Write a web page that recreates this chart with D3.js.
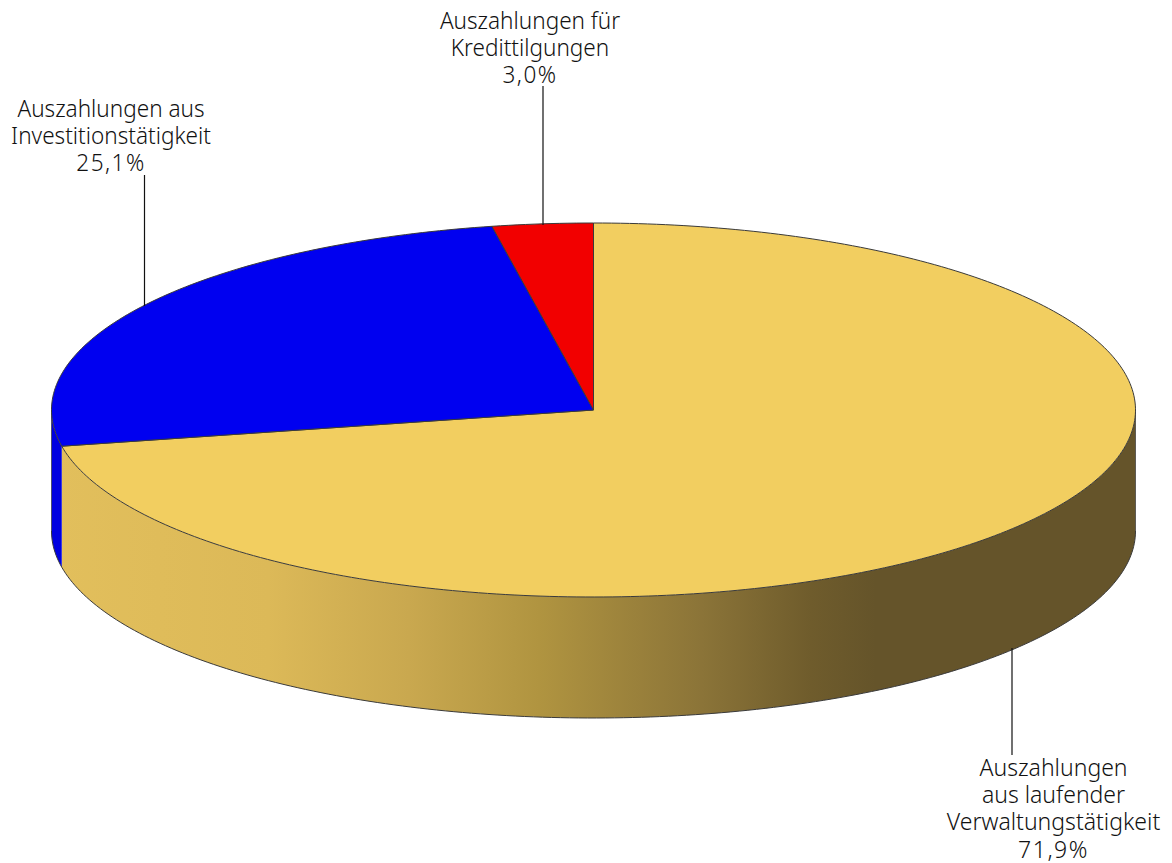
<!DOCTYPE html>
<html><head><meta charset="utf-8">
<script src="https://cdn.jsdelivr.net/npm/d3@7"></script>
<style>html,body{margin:0;padding:0;background:#fff}svg{display:block}
text{font-family:"Noto Sans",sans-serif;font-weight:300;fill:#111;font-size:23px}</style>
</head><body><svg id="c" width="1172" height="863"></svg>
<script>
const categories = ["Auszahlungen aus laufender Verwaltungstätigkeit","Auszahlungen aus Investitionstätigkeit","Auszahlungen für Kredittilgungen"];
const values = [71.9,25.1,3.0];
const colors = ["#f2ce60","#0000f0","#f20000"];
const sideColors = ["url(#wall)","#0000e0","#d80000"];
const labelLines = [["Auszahlungen","aus laufender","Verwaltungstätigkeit","71,9%"],["Auszahlungen aus","Investitionstätigkeit","25,1%"],["Auszahlungen für","Kredittilgungen","3,0%"]];
const labelLayout = [
 {x:1053.5,y0:776,lh:27.2,sx:1,lineX:1012,lineY0:648,lineY1:755},
 {x:111,y0:117,lh:27.2,sx:0.98,lineX:144.5,lineY0:175,lineY1:306},
 {x:530,y0:29,lh:27.2,sx:0.98,lineX:543,lineY0:86,lineY1:225}];
const cx=593.5,cy=410,rx=542,ry=187,depth=121;
const svg=d3.select("#c");
const defs=svg.append("defs");
const grad=defs.append("linearGradient").attr("id","wall").attr("gradientUnits","userSpaceOnUse")
 .attr("x1",cx-rx).attr("x2",cx+rx).attr("y1",0).attr("y2",0);
[[0,"#e2bf5c"],[0.2,"#dcb958"],[0.33,"#c9a84f"],[0.45,"#b09440"],[0.6,"#8b7438"],[0.7,"#6f5c2c"],[0.76,"#65542a"],[1,"#65542a"]]
 .forEach(s=>grad.append("stop").attr("offset",s[0]).attr("stop-color",s[1]));
const pie=d3.pie().sort(null).value(d=>d)(values);
const X=d3.scaleLinear().domain([0,1]).range([cx,cx+rx]);
const Y=d3.scaleLinear().domain([0,1]).range([cy,cy+ry]);
const pt=(a,dz=0)=>[X(Math.sin(a)),Y(-Math.cos(a))+dz];
function arcPts(a0,a1,dz){const n=Math.max(2,Math.ceil(Math.abs(a1-a0)*60));
 return d3.range(n+1).map(i=>pt(a0+(a1-a0)*i/n,dz));}
const line=d3.line();
const edge="#3a3a3a";
pie.forEach((d,i)=>{
 const a0=Math.max(d.startAngle,Math.PI/2),a1=Math.min(d.endAngle,3*Math.PI/2);
 if(a1<=a0)return;
 const pts=arcPts(a0,a1,0).concat(arcPts(a1,a0,depth));
 svg.append("path").attr("d",line(pts)+"Z").attr("fill",sideColors[i]);
 svg.append("path").attr("d",line(arcPts(a1,a0,depth))).attr("fill","none").attr("stroke",edge).attr("stroke-width",1);
});
pie.forEach((d,i)=>{
 const pts=[[cx,cy]].concat(arcPts(d.startAngle,d.endAngle,0));
 svg.append("path").attr("d",line(pts)+"Z").attr("fill",colors[i]).attr("stroke",edge).attr("stroke-width",1).attr("stroke-linejoin","round");
});
[Math.PI/2,3*Math.PI/2].forEach(a=>{
 svg.append("path").attr("d",line([pt(a,0),pt(a,depth)])).attr("stroke",edge).attr("stroke-width",1).attr("fill","none").attr("opacity",.7);
});
labelLayout.forEach((l,i)=>{
 svg.append("line").attr("x1",l.lineX).attr("x2",l.lineX).attr("y1",l.lineY0).attr("y2",l.lineY1).attr("stroke","#111").attr("stroke-width",1.2);
 const g=svg.append("g").attr("transform",`translate(${l.x},${l.y0}) scale(${l.sx},1)`);
 labelLines[i].forEach((t,j)=>g.append("text").attr("text-anchor","middle").attr("y",j*l.lh)
   .attr("letter-spacing",t.includes("%")?1.5:0).text(t));
});
</script></body></html>
